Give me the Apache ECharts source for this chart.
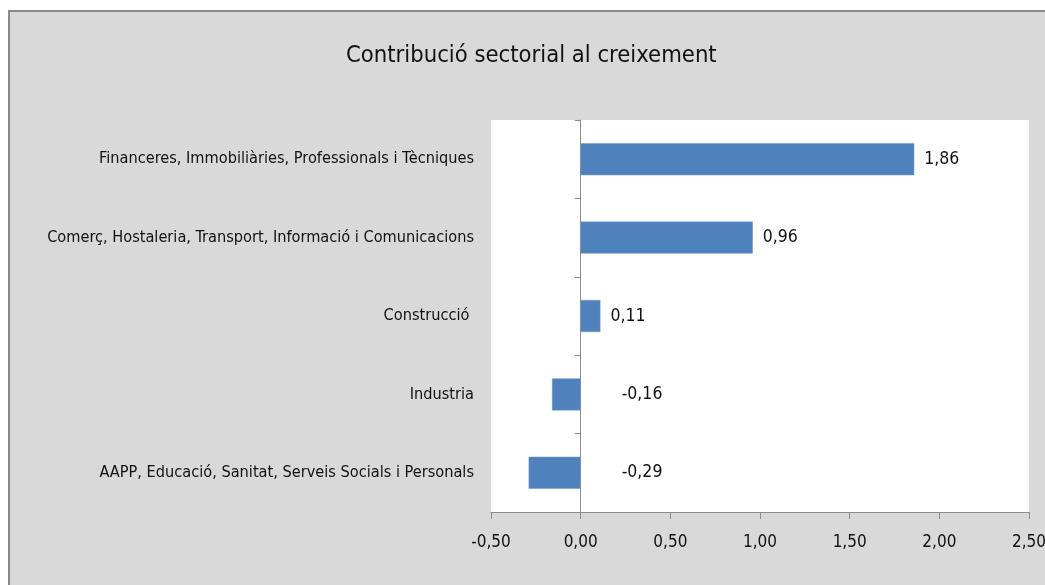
<!DOCTYPE html>
<html>
<head>
<meta charset="utf-8">
<script src="https://cdn.jsdelivr.net/npm/echarts@6/dist/echarts.min.js"></script>
<style>
html,body{margin:0;padding:0;background:#fff;}
#c{width:1045px;height:585px;}
</style>
</head>
<body>
<div id="c"></div>
<script>
const title = "Contribució sectorial al creixement";
const categories = [
  "Financeres, Immobiliàries, Professionals i Tècniques",
  "Comerç, Hostaleria, Transport, Informació i Comunicacions",
  "Construcció ",
  "Industria",
  "AAPP, Educació, Sanitat, Serveis Socials i Personals"
];
const values = [1.86, 0.96, 0.11, -0.16, -0.29];
const xMin = -0.5, xMax = 2.5, xInterval = 0.5;

const FONT = "'Liberation Sans Narrow', 'DejaVu Sans Condensed', sans-serif";
const fmt = v => v.toFixed(2).replace('.', ',');

const chart = echarts.init(document.getElementById('c'));
chart.setOption({
  backgroundColor: '#ffffff',
  animation: false,
  graphic: [{
    type: 'rect', z: -10, silent: true,
    shape: {x: 9, y: 11, width: 1100, height: 640},
    style: {fill: '#d9d9d9', stroke: '#8a8a8a', lineWidth: 2}
  }],
  title: {
    text: title, left: 341, top: 39,
    textStyle: {fontFamily: FONT, fontSize: 23.6, fontWeight: 'normal', color: '#111111'}
  },
  grid: {
    left: 491, right: 16, top: 120, bottom: 73,
    outerBoundsMode: 'none', containLabel: false,
    show: true, backgroundColor: '#ffffff', borderWidth: 0
  },
  xAxis: {
    type: 'value', min: xMin, max: xMax, interval: xInterval,
    splitLine: {show: false},
    axisLine: {show: true, lineStyle: {color: '#8c8c8c', width: 1}},
    axisTick: {show: true, length: 7, lineStyle: {color: '#8c8c8c'}},
    axisLabel: {
      margin: 22, fontFamily: FONT, fontSize: 17, color: '#111111',
      formatter: v => fmt(v)
    }
  },
  yAxis: [{
    type: 'category', inverse: true, data: categories,
    axisLine: {show: false, onZero: false}, axisTick: {show: false},
    axisLabel: {margin: 17, fontFamily: FONT, fontSize: 16.2, color: '#111111'}
  }, {
    type: 'category', inverse: true, data: categories,
    position: 'left',
    axisLine: {show: true, onZero: true, onZeroAxisIndex: 0, lineStyle: {color: '#8c8c8c', width: 1}},
    axisTick: {show: true, length: 6, inside: false, lineStyle: {color: '#8c8c8c'}},
    axisLabel: {show: false}
  }],
  series: [{
    type: 'bar', yAxisIndex: 0, barWidth: 32,
    itemStyle: {color: '#4f81bd', borderColor: '#6d98cc', borderWidth: 0.5},
    data: values.map(v => ({
      value: v,
      label: v >= 0
        ? {show: true, position: 'right', distance: 10}
        : {show: true, position: 'right', distance: 41}
    })),
    label: {
      fontFamily: FONT, fontSize: 17.5, color: '#111111',
      formatter: p => fmt(p.value)
    }
  }]
});
</script>
</body>
</html>
